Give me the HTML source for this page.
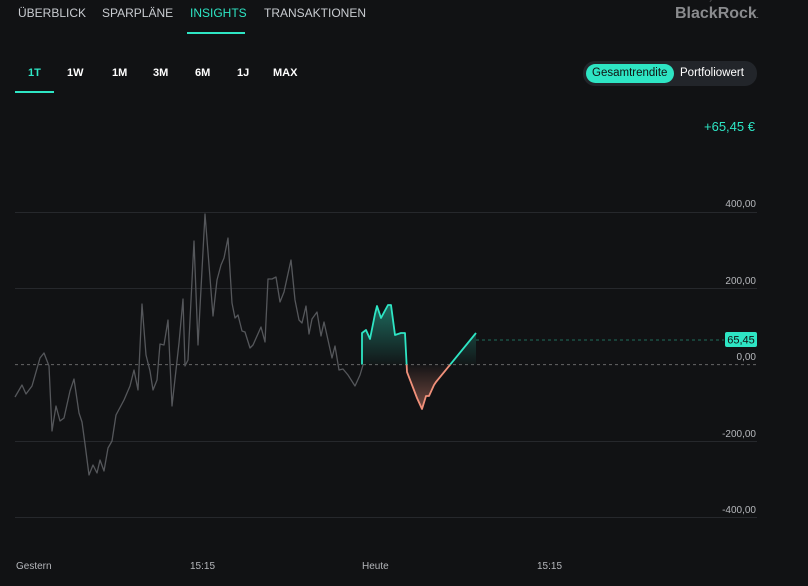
<!DOCTYPE html>
<html><head><meta charset="utf-8"><style>
body{margin:0;background:#111214;width:808px;height:586px;overflow:hidden;font-family:"Liberation Sans",sans-serif;position:relative}
.t{position:absolute;font-size:12px;color:#c9ccd1;white-space:nowrap}
.b{font-weight:bold;font-size:11px;color:#fff;top:67px}
</style></head><body>
<div class="t" style="left:18px;top:6px">ÜBERBLICK</div>
<div class="t" style="left:102px;top:6px">SPARPLÄNE</div>
<div class="t" style="left:190px;top:6px;color:#2ee5c4">INSIGHTS</div>
<div class="t" style="left:264px;top:6px">TRANSAKTIONEN</div>
<div style="position:absolute;left:187px;top:32px;width:58px;height:2px;background:#2ee5c4"></div>
<div class="t" style="left:676px;top:-5px;font-size:7px;color:#777">Powered by</div>
<div class="t" style="left:675px;top:5px;font-size:16px;font-weight:bold;color:#8a8b8e">BlackRock<span style="font-size:6px">.</span></div>
<div class="t b" style="left:28px;color:#2ee5c4">1T</div>
<div class="t b" style="left:67px">1W</div>
<div class="t b" style="left:112px">1M</div>
<div class="t b" style="left:153px">3M</div>
<div class="t b" style="left:195px">6M</div>
<div class="t b" style="left:237px">1J</div>
<div class="t b" style="left:273px">MAX</div>
<div style="position:absolute;left:15px;top:91px;width:39px;height:2px;background:#2ee5c4"></div>
<div style="position:absolute;left:583px;top:61px;width:174px;height:25px;border-radius:12px;background:#22252a"></div>
<div style="position:absolute;left:586px;top:64px;width:88px;height:19px;border-radius:10px;background:#2ee5c4"></div>
<div class="t" style="left:592px;top:67px;color:#111;font-size:11.5px">Gesamtrendite</div>
<div class="t" style="left:680px;top:67px;color:#fff;font-size:11.5px">Portfoliowert</div>
<div class="t" style="left:704px;top:119px;color:#2ee5c4;font-size:13px">+65,45 €</div>
<svg width="808" height="586" style="position:absolute;left:0;top:0">
<defs>
<linearGradient id="gp" x1="0" y1="300" x2="0" y2="365" gradientUnits="userSpaceOnUse"><stop offset="0" stop-color="#2ee5c4" stop-opacity="0.45"/><stop offset="1" stop-color="#2ee5c4" stop-opacity="0.02"/></linearGradient>
<linearGradient id="gn" x1="0" y1="365" x2="0" y2="410" gradientUnits="userSpaceOnUse"><stop offset="0" stop-color="#f0907a" stop-opacity="0.02"/><stop offset="1" stop-color="#f0907a" stop-opacity="0.45"/></linearGradient>
<clipPath id="ca"><rect x="0" y="0" width="808" height="364.6"/></clipPath>
<clipPath id="cb"><rect x="0" y="364.6" width="808" height="300"/></clipPath>
</defs>
<g stroke="#26282c" stroke-width="1">
<line x1="15" y1="212.5" x2="757" y2="212.5"/><line x1="15" y1="288.5" x2="757" y2="288.5"/>
<line x1="15" y1="441.5" x2="757" y2="441.5"/><line x1="15" y1="517.5" x2="757" y2="517.5"/>
</g>
<line x1="15" y1="364.6" x2="757" y2="364.6" stroke="#666" stroke-dasharray="3,3"/>
<line x1="476" y1="340" x2="724" y2="340" stroke="#1f6e5c" stroke-dasharray="3,3"/>
<polyline fill="none" stroke="#55575b" stroke-width="1.3" stroke-linejoin="round" points="15,397 22,385 26,394 32,386 40,358 44,353 49,366 52,431 56,406 60,421 64,418 70,391 74,379 79,413 82,422 85,444 89,475 93,465 97,473 100,460 104,471 108,448 112,441 116,415 124,400 130,386 134,370 138,390 142,304 146,355 150,371 153,390 157,380 160,344 164,345 168,320 172,406 179,343 183,299 185,366 188,360 194,241 198,345 205,214 213,316 217,280 221,265 224,258 228,238 232,303 235,318 238,315 242,331 245,332 250,348 253,345 261,327 265,342 268,279 272,279 276,277 280,302 284,292 291,260 295,300 299,320 302,323 306,306 309,334 312,319 317,312 321,336 324,322 332,358 335,346 339,370 343,369 348,375 355,386 360,375 363,365"/>
<g clip-path="url(#ca)">
<polygon fill="url(#gp)" points="362,364.6 362,333 366,330 370,339 375,314 377,306 381,318 388,305 391,305 395,335 401,333 405,333 407,372 412,385 417,398 422,409 426,396 429,396 434,385 436,382 476,333 476,364.6"/>
<polyline fill="none" stroke="#2ee5c4" stroke-width="1.8" stroke-linejoin="round" points="362,364.6 362,333 366,330 370,339 375,314 377,306 381,318 388,305 391,305 395,335 401,333 405,333 407,372 412,385 417,398 422,409 426,396 429,396 434,385 436,382 476,333"/>
</g>
<g clip-path="url(#cb)">
<polygon fill="url(#gn)" points="405,364.6 405,333 407,372 412,385 417,398 422,409 426,396 429,396 434,385 436,382 476,333 450,364.6"/>
<polyline fill="none" stroke="#f0907a" stroke-width="1.8" stroke-linejoin="round" points="405,333 407,372 412,385 417,398 422,409 426,396 429,396 434,385 436,382 476,333"/>
</g>
<rect x="725" y="332" width="32" height="15" rx="2" fill="#2ee5c4"/>
<text x="741" y="343.5" font-size="11" text-anchor="middle" fill="#111" font-family="Liberation Sans">65,45</text>
<g font-size="10" fill="#b5b7bb" text-anchor="end" font-family="Liberation Sans">
<text x="756" y="207">400,00</text><text x="756" y="284">200,00</text><text x="756" y="360">0,00</text>
<text x="756" y="437">-200,00</text><text x="756" y="513">-400,00</text>
</g>
<g font-size="10" fill="#b5b7bb" font-family="Liberation Sans">
<text x="16" y="569">Gestern</text><text x="190" y="569">15:15</text><text x="362" y="569">Heute</text><text x="537" y="569">15:15</text>
</g>
</svg>
</body></html>
